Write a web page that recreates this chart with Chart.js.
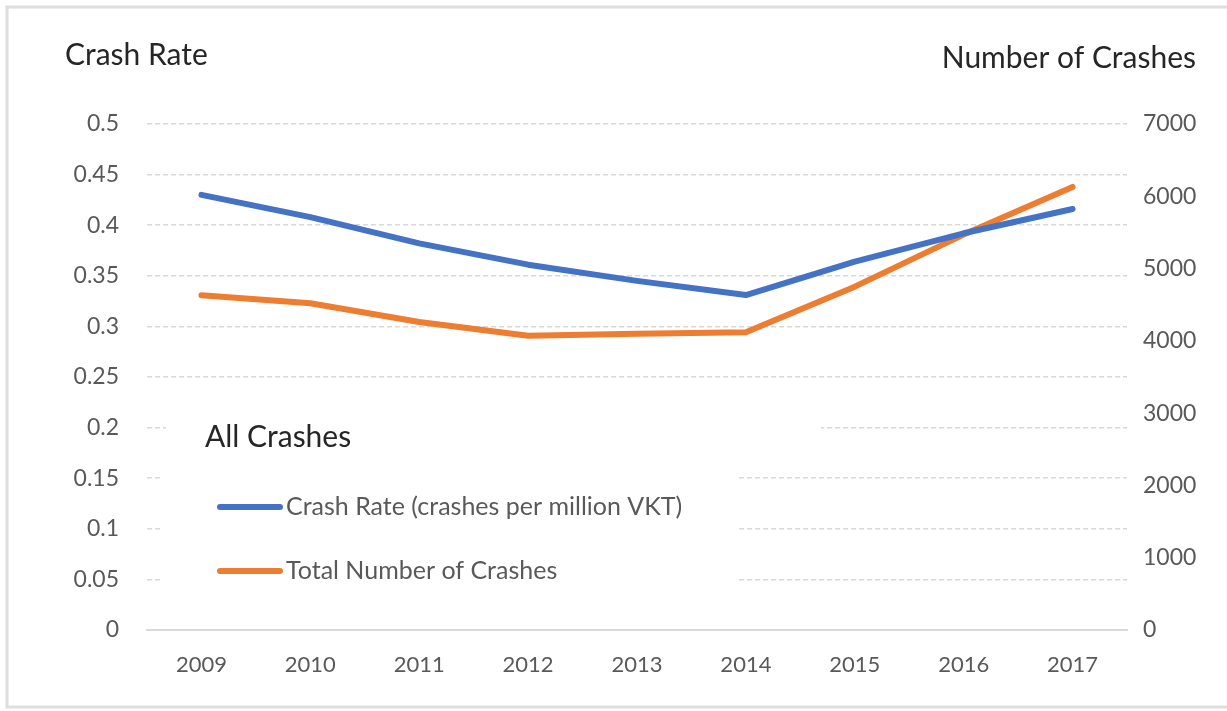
<!DOCTYPE html>
<html lang="en">
<head>
<meta charset="UTF-8" />
<title>All Crashes 2009-2017</title>
<script src="https://cdn.jsdelivr.net/npm/chart.js"></script>
<style>
  html, body { margin: 0; padding: 0; background: #fff; }
  #wrap { width: 1227px; height: 711px; position: relative; }
</style>
</head>
<body>
<div id="wrap"><canvas id="crashChart" width="1227" height="711"></canvas></div>
<script>
// yearly figures
const years = ['2009', '2010', '2011', '2012', '2013', '2014', '2015', '2016', '2017'];
const crashRate = [0.43, 0.408, 0.382, 0.361, 0.345, 0.331, 0.364, 0.392, 0.416];
const totalCrashes = [4630, 4520, 4260, 4070, 4100, 4120, 4750, 5470, 6130];

const rateLabel = 'Crash Rate (crashes per million VKT)';
const totalLabel = 'Total Number of Crashes';

const FONT = 'Lato, "Open Sans", sans-serif';
const BLUE = '#4472C4';
const ORANGE = '#ED7D31';
const GRID = '#d9d9d9';
const TICK = '#595959';
const DARK = '#262626';

// frame, axis titles and the boxed legend drawn straight onto the canvas
const decor = {
  id: 'decor',
  beforeDraw(chart) {
    const ctx = chart.ctx;
    ctx.save();
    ctx.fillStyle = '#fff';
    ctx.fillRect(0, 0, chart.width, chart.height);
    ctx.strokeStyle = '#dedede';
    ctx.lineWidth = 3;
    ctx.strokeRect(7, 7, chart.width + 10, 700);
    ctx.restore();
  },
  beforeDatasetsDraw(chart) {
    const ctx = chart.ctx;
    ctx.save();
    // white box behind the legend
    ctx.fillStyle = '#fff';
    ctx.fillRect(166, 405, 655, 45);
    ctx.fillRect(161, 450, 575, 150);

    ctx.fillStyle = DARK;
    ctx.font = '30px ' + FONT;
    ctx.textBaseline = 'middle';
    ctx.textAlign = 'left';
    ctx.fillText('Crash Rate', 65, 55);
    ctx.fillText('All Crashes', 205, 437);
    ctx.textAlign = 'right';
    ctx.fillText('Number of Crashes', 1196, 58);

    const items = chart.data.datasets;
    const rows = [507, 571];
    ctx.textAlign = 'left';
    ctx.font = '25px ' + FONT;
    items.forEach((ds, i) => {
      ctx.strokeStyle = ds.borderColor;
      ctx.lineWidth = 6;
      ctx.lineCap = 'round';
      ctx.beginPath();
      ctx.moveTo(220, rows[i]);
      ctx.lineTo(280, rows[i]);
      ctx.stroke();
      ctx.fillStyle = TICK;
      ctx.fillText(ds.label, 286, rows[i]);
    });
    ctx.restore();
  }
};

new Chart(document.getElementById('crashChart'), {
  type: 'line',
  data: {
    labels: years,
    datasets: [
      {
        label: rateLabel,
        data: crashRate,
        yAxisID: 'yRate',
        borderColor: BLUE,
        backgroundColor: BLUE,
        borderWidth: 6,
        borderCapStyle: 'round',
        borderJoinStyle: 'round',
        pointRadius: 0,
        tension: 0
      },
      {
        label: totalLabel,
        data: totalCrashes,
        yAxisID: 'yTotal',
        borderColor: ORANGE,
        backgroundColor: ORANGE,
        borderWidth: 6,
        borderCapStyle: 'round',
        borderJoinStyle: 'round',
        pointRadius: 0,
        tension: 0
      }
    ]
  },
  options: {
    responsive: false,
    animation: false,
    devicePixelRatio: 1,
    layout: { padding: { top: 124, bottom: 0, left: 0, right: 0 } },
    plugins: {
      legend: { display: false },
      tooltip: { enabled: false }
    },
    scales: {
      x: {
        offset: true,
        grid: { display: false, drawTicks: false },
        border: { display: true, color: GRID, width: 2 },
        ticks: { color: TICK, font: { family: FONT, size: 22 }, padding: 22 },
        afterFit(s) { s.height = 81; }
      },
      yRate: {
        position: 'left',
        min: 0,
        max: 0.5,
        ticks: {
          stepSize: 0.05,
          color: TICK,
          font: { family: FONT, size: 23 },
          padding: 28,
          callback: v => String(+v.toFixed(2))
        },
        grid: { color: GRID, lineWidth: 1.5, drawTicks: false },
        border: { display: false, dash: [5, 3] },
        afterFit(s) { s.width = 147; }
      },
      yTotal: {
        position: 'right',
        min: 0,
        max: 7000,
        ticks: {
          stepSize: 1000,
          color: TICK,
          font: { family: FONT, size: 23 },
          padding: 16,
          callback: v => String(v)
        },
        grid: { display: false, drawTicks: false },
        border: { display: false },
        afterFit(s) { s.width = 100; }
      }
    }
  },
  plugins: [decor]
});
</script>
</body>
</html>
